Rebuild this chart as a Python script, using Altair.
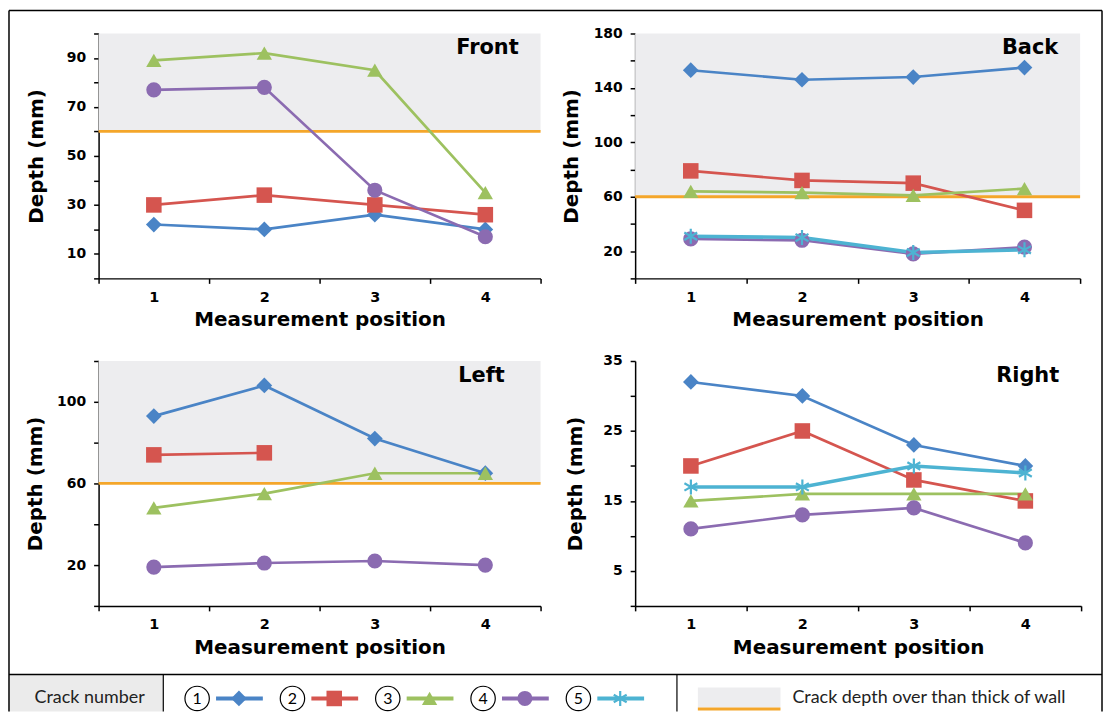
import altair as alt
import pandas as pd

# ---------------- data ----------------
positions = [1, 2, 3, 4]
crack_ids = ["1", "2", "3", "4", "5"]
crack_colors = ["#4A84C6", "#D5554F", "#9DC160", "#8B6BB1", "#4DB3D2"]
ASTER = "M0,-1L0,1M-0.866,-0.5L0.866,0.5M-0.866,0.5L0.866,-0.5"
crack_shapes = ["diamond", "square", "triangle-up", "circle", ASTER]
crack_sizes = [250, 225, 280, 260, 190]

front_1 = [22, 20, 26, 20]
front_2 = [30, 34, 30, 26]
front_3 = [89, 92, 85, 35]
front_4 = [77, 78, 36, 17]

back_1 = [153, 146, 148, 155]
back_2 = [79, 72, 70, 50]
back_3 = [64, 63, 61, 66]
back_4 = [29, 28, 18, 23]
back_5 = [31, 30, 19, 21]

left_1 = [93, 108, 82, 65]
left_2 = [74, 75, None, None]
left_3 = [48, 55, 65, 65]
left_4 = [19, 21, 22, 20]

right_1 = [32, 30, 23, 20]
right_2 = [20, 25, 18, 15]
right_3 = [15, 16, 16, 16]
right_4 = [11, 13, 14, 9]
right_5 = [17, 17, 20, 19]

wall_thickness = 60
x_domain = [0.5, 4.5]
x_ticks = [0.5, 1, 1.5, 2, 2.5, 3, 3.5, 4, 4.5]

front_y_ticks = [0, 10, 20, 30, 40, 50, 60, 70, 80, 90, 100]
front_y_labels = [10, 30, 50, 70, 90]
back_y_ticks = [0, 20, 40, 60, 80, 100, 120, 140, 160, 180]
back_y_labels = [20, 60, 100, 140, 180]
left_y_ticks = [0, 20, 40, 60, 80, 100, 120]
left_y_labels = [20, 60, 100]
right_y_ticks = [0, 5, 10, 15, 20, 25, 30, 35]
right_y_labels = [5, 15, 25, 35]

legend_title = "Crack number"
legend_wall_text = "Crack depth over than thick of wall"

# ---------------- style ----------------
FONT = "DejaVu Sans"
LFONT = "Lato"
BAND_GRAY = "#EDEDEF"
ORANGE = "#F4A62A"

color_scale = alt.Scale(domain=crack_ids, range=crack_colors)
shape_scale = alt.Scale(domain=crack_ids, range=crack_shapes)
size_scale = alt.Scale(domain=crack_ids, range=crack_sizes)


def series_frame(series):
    rows = []
    for crack, vals in series:
        for p, v in zip(positions, vals):
            if v is not None:
                rows.append({"crack": crack, "pos": p, "depth": v})
    return pd.DataFrame(rows)


def panel(name, series, y_ticks, y_labels, width, height, title_x, title_y, y_title_pad):
    df = series_frame(series)
    y_max = y_ticks[-1]
    xs = alt.Scale(domain=x_domain, nice=False, zero=False)
    ys = alt.Scale(domain=[0, y_max], nice=False, zero=True)
    x_axis = alt.Axis(
        values=x_ticks,
        labelExpr="datum.value % 1 === 0 ? format(datum.value, 'd') : ''",
        tickOpacity={"condition": {"test": "datum.value % 1 === 0", "value": 0}, "value": 1},
        title="Measurement position",
        labelFont=FONT, labelFontWeight="bold", labelFontSize=14.5, labelColor="black",
        labelPadding=7, labelOverlap=False, labelFlush=False,
        titleFont=FONT, titleFontWeight="bold", titleFontSize=20, titleColor="black",
        titlePadding=6,
        domainColor="black", domainWidth=1.5, tickColor="black", tickWidth=1.5, tickSize=5,
        grid=False,
    )
    y_axis = alt.Axis(
        values=y_ticks,
        labelExpr="indexof(%s, datum.value) >= 0 ? datum.label : ''" % str(y_labels),
        title="Depth (mm)",
        labelFont=FONT, labelFontWeight="bold", labelFontSize=14, labelColor="black",
        labelPadding=8, labelOverlap=False, labelFlush=False,
        titleFont=FONT, titleFontWeight="bold", titleFontSize=20, titleColor="black",
        titlePadding=y_title_pad,
        domainColor="black", domainWidth=1.5, tickColor="black", tickWidth=1.5, tickSize=5,
        grid=False,
    )

    def X(f):
        return alt.X(f, type="quantitative", scale=xs, axis=x_axis)

    def Y(f):
        return alt.Y(f, type="quantitative", scale=ys, axis=y_axis)

    layers = []
    if wall_thickness < y_max:
        band_df = pd.DataFrame({"xa": [x_domain[0]], "xb": [x_domain[1]],
                                "ya": [wall_thickness], "yb": [y_max]})
        layers.append(alt.Chart(band_df).mark_rect(color=BAND_GRAY).encode(
            x=X("xa"), x2="xb", y=Y("ya"), y2="yb"))
        layers.append(alt.Chart(band_df).mark_rule(color=ORANGE, strokeWidth=2.8).encode(
            x=X("xa"), x2="xb", y=Y("ya")))

    df14 = df[df.crack != "5"]
    df5 = df[df.crack == "5"]
    color = alt.Color("crack:N", scale=color_scale, legend=None)
    shape = alt.Shape("crack:N", scale=shape_scale, legend=None)
    size = alt.Size("crack:N", scale=size_scale, legend=None)

    layers.append(alt.Chart(df14).mark_line(strokeWidth=2.7).encode(
        x=X("pos"), y=Y("depth"), color=color))
    if len(df5):
        layers.append(alt.Chart(df5).mark_line(strokeWidth=3.6).encode(
            x=X("pos"), y=Y("depth"), color=color))
    layers.append(alt.Chart(df14).mark_point(filled=True, opacity=1).encode(
        x=X("pos"), y=Y("depth"), color=color, shape=shape, size=size))
    if len(df5):
        layers.append(alt.Chart(df5).mark_point(filled=False, opacity=1, strokeWidth=2.2).encode(
            x=X("pos"), y=Y("depth"), color=color, shape=shape, size=size))

    layers.append(alt.Chart(pd.DataFrame({"label": [name]})).mark_text(
        align="right", baseline="alphabetic", font=FONT, fontWeight="bold",
        fontSize=21, color="black").encode(
        x=alt.value(title_x), y=alt.value(title_y), text="label:N"))

    return alt.layer(*layers).properties(width=width, height=height)


front = panel("Front", [("1", front_1), ("2", front_2), ("3", front_3), ("4", front_4)],
              front_y_ticks, front_y_labels, 444, 246, 422, 21, 20)
back = panel("Back", [("1", back_1), ("2", back_2), ("3", back_3), ("4", back_4), ("5", back_5)],
             back_y_ticks, back_y_labels, 447, 246, 425, 21, 12)
left = panel("Left", [("1", left_1), ("2", left_2), ("3", left_3), ("4", left_4)],
             left_y_ticks, left_y_labels, 444, 246, 408, 21, 11)
right = panel("Right", [("1", right_1), ("2", right_2), ("3", right_3), ("4", right_4), ("5", right_5)],
              right_y_ticks, right_y_labels, 448, 246, 426, 21, 17)

# ---------------- legend row ----------------
# legend view origin sits at page (98, 689); its row top line is 14px above.
LEG_VIEW_W = 440          # view kept narrow so the grid columns are not widened
RIGHT_EDGE = 1008         # outer border, relative to the legend view origin
LEG_H = 23
TOP = -14
CY = 10
one = pd.DataFrame({"t": [0]})
leg_df = pd.DataFrame({"crack": crack_ids, "k": [1, 2, 3, 4, 5]})
leg_x = alt.X("k:Q", scale=alt.Scale(domain=[1, 5], range=[99, 482]), axis=None)


def rule(x, y, x2=None, y2=None, color="black", w=1.5):
    enc = dict(x=alt.value(x), y=alt.value(y))
    if x2 is not None:
        enc["x2"] = alt.value(x2)
    if y2 is not None:
        enc["y2"] = alt.value(y2)
    return alt.Chart(one).mark_rule(color=color, strokeWidth=w).encode(**enc)


leg_color = alt.Color("crack:N", scale=color_scale, legend=None)
leg_shape = alt.Shape("crack:N", scale=shape_scale, legend=None)
leg_size = alt.Size("crack:N", scale=size_scale, legend=None)

leg_layers = [
    alt.Chart(one).mark_rect(color="#EBEBEB").encode(
        x=alt.value(-90), x2=alt.value(65), y=alt.value(TOP), y2=alt.value(LEG_H)),
    rule(-90, -681, x2=RIGHT_EDGE),          # outer top border
    rule(-90, -681, y2=LEG_H),               # outer left border
    rule(RIGHT_EDGE, -681, y2=LEG_H),        # outer right border
    rule(-90, TOP, x2=RIGHT_EDGE),           # legend row top line
    rule(65, TOP, y2=LEG_H, w=1.2),          # divider
    rule(581, TOP, y2=LEG_H, w=1.2),         # divider
    alt.Chart(pd.DataFrame({"t": [legend_title]})).mark_text(
        font=LFONT, fontSize=18, color="#222222", align="center", baseline="middle").encode(
        x=alt.value(-9), y=alt.value(CY), text="t:N"),
    alt.Chart(leg_df).mark_point(shape="circle", size=600, filled=False, color="black",
                                 strokeWidth=1.2, opacity=1).encode(x=leg_x, y=alt.value(CY)),
    alt.Chart(leg_df).mark_text(font=LFONT, fontSize=16, color="black",
                                baseline="middle", align="center").encode(
        x=leg_x, y=alt.value(CY + 0.5), text="crack:N"),
    alt.Chart(leg_df).mark_rule(strokeWidth=4, xOffset=19, x2Offset=66).encode(
        x=leg_x, x2="k:Q", y=alt.value(CY), color=leg_color),
    alt.Chart(leg_df[leg_df.crack != "5"]).mark_point(filled=True, opacity=1, xOffset=42).encode(
        x=leg_x, y=alt.value(CY), color=leg_color, shape=leg_shape, size=leg_size),
    alt.Chart(leg_df[leg_df.crack == "5"]).mark_point(filled=False, opacity=1, strokeWidth=2.2,
                                                      xOffset=42).encode(
        x=leg_x, y=alt.value(CY), color=leg_color, shape=leg_shape, size=leg_size),
    alt.Chart(one).mark_rect(color=BAND_GRAY).encode(
        x=alt.value(602), x2=alt.value(685), y=alt.value(CY - 11), y2=alt.value(CY + 9)),
    rule(602, CY + 10.5, x2=685, color=ORANGE, w=3),
    alt.Chart(pd.DataFrame({"t": [legend_wall_text]})).mark_text(
        font=LFONT, fontSize=18, color="#222222", align="left", baseline="middle").encode(
        x=alt.value(697), y=alt.value(CY), text="t:N"),
]
legend = alt.layer(*leg_layers).properties(width=LEG_VIEW_W, height=LEG_H)

chart = alt.concat(
    front, back, left, right, legend,
    columns=2, spacing={"row": 83, "column": 95}, bounds="flush", align="none",
).properties(padding=0).configure_view(stroke=None)

chart.save("out.html", embed_options={"renderer": "svg", "actions": False})
